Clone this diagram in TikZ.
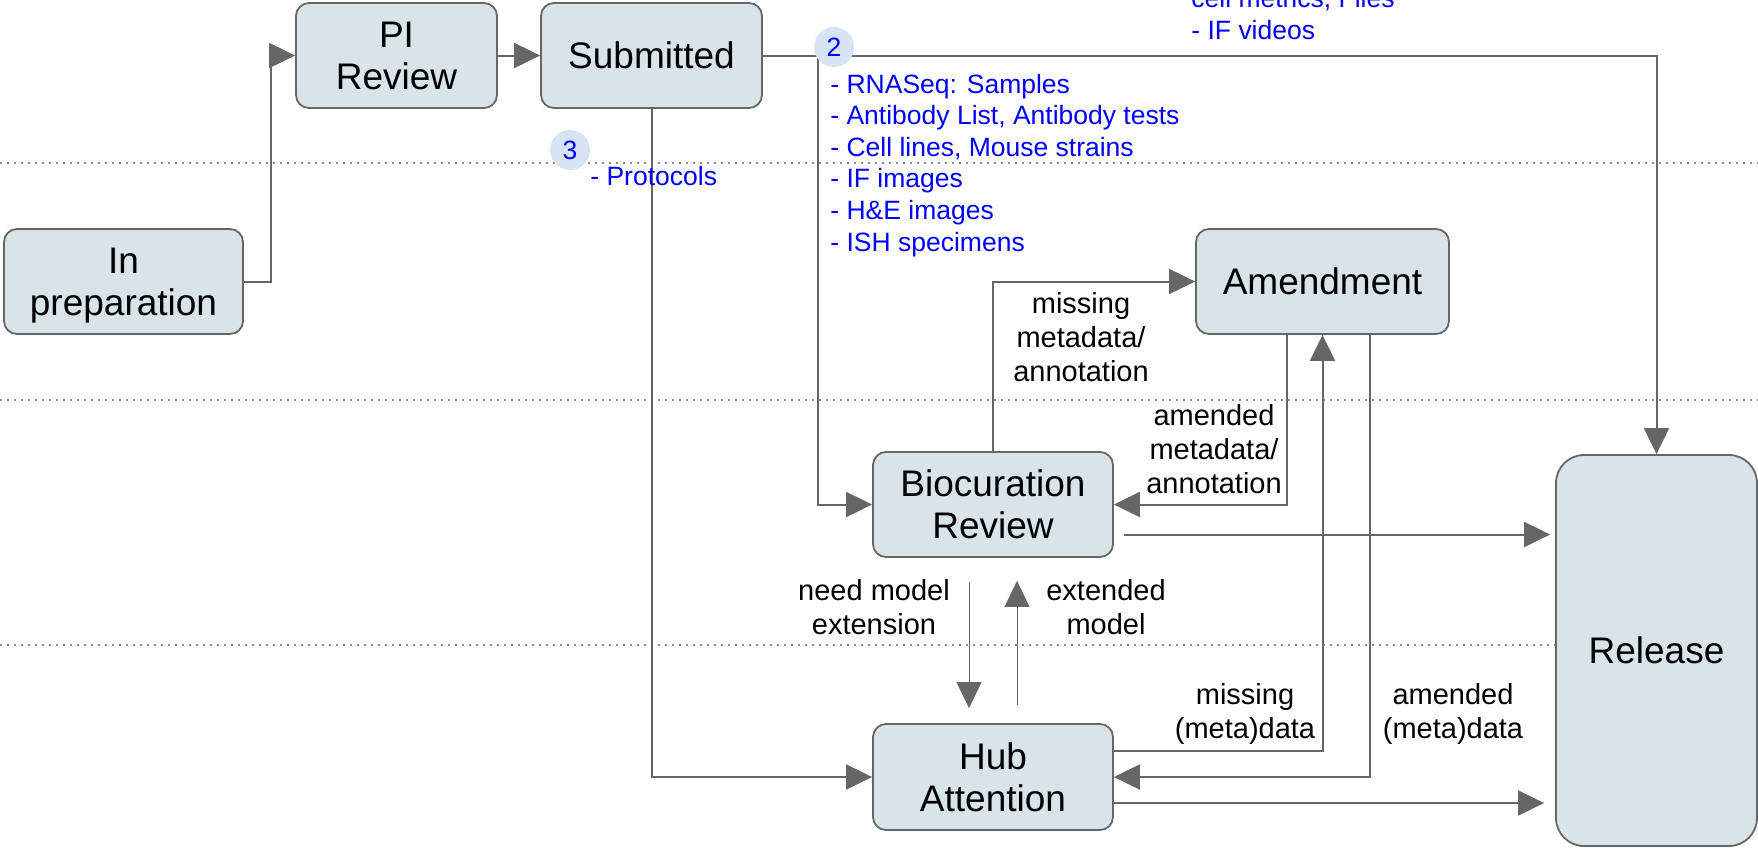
\documentclass[tikz,border=0pt]{standalone}
\usepackage{fontspec}
\setmainfont{Liberation Sans}
\usetikzlibrary{arrows.meta,calc}
\definecolor{boxfill}{HTML}{D9E4E8}
\definecolor{boxline}{HTML}{666666}
\definecolor{linegray}{HTML}{666666}
\definecolor{circfill}{HTML}{D6E4F5}
\definecolor{dotgray}{HTML}{8C8C8C}
\definecolor{txtblue}{HTML}{0000FF}
\begin{document}
\begin{tikzpicture}[x=0.5pt,y=-0.5pt,
  state/.style={draw=boxline, line width=0.9pt, fill=boxfill, rounded corners=6.5pt,
    align=center, font=\fontsize{18.5}{21}\selectfont, inner sep=0pt, text depth=0pt},
  conn/.style={draw=linegray, line width=1pt, -{Triangle[length=13pt,width=12.5pt]}},
  thinconn/.style={conn, line width=0.5pt},
  lab/.style={align=center, font=\fontsize{14.5}{17}\selectfont, inner sep=0pt, text depth=0pt},
  bluetxt/.style={text=txtblue, font=\fontsize{13.25}{15.8}\selectfont, inner sep=0pt, anchor=base west},
  num/.style={circle, fill=circfill, minimum size=20pt, inner sep=0pt, text=txtblue,
    font=\fontsize{13.25}{15.8}\selectfont},
  sepline/.style={draw=dotgray, line width=0.8pt, dash pattern=on 0.8pt off 2.7pt}
]
\clip (0,0) rectangle (1758,848);

% lane separators
\draw[sepline] (0,163) -- (1758,163);
\draw[sepline] (0,400) -- (1758,400);
\draw[sepline] (0,645) -- (1758,645);

% states
\node[state, minimum width=119.5pt, minimum height=52.5pt] (inprep) at (123.5,281.5) {In\\preparation};
\node[state, minimum width=100.5pt, minimum height=52.5pt] (pi) at (396.5,55.5) {PI\\Review};
\node[state, minimum width=110.5pt, minimum height=52.5pt] (sub) at (651.5,55.5) {Submitted};
\node[state, minimum width=126.5pt, minimum height=52.5pt] (amend) at (1322.5,281.5) {Amendment};
\node[state, minimum width=120pt, minimum height=52.5pt] (bio) at (993,504.5) {Biocuration\\Review};
\node[state, minimum width=120pt, minimum height=53pt] (hub) at (993,777) {Hub\\Attention};
\node[state, rounded corners=14pt, minimum width=100.5pt, minimum height=195.5pt] (release) at (1656.5,650.5) {Release};

% connectors
\draw[conn] (inprep.east) -- ++(27,0) |- (pi.west);
\draw[conn] (pi.east) -- (sub.west);
\draw[conn] (sub.east) -| (release.north);
\coordinate (br) at (818,55.5);
\draw[conn] (br) |- (bio.west);
\draw[conn] (sub.south) |- (hub.west);
\draw[conn] (bio.north) |- (amend.west);
\draw[conn] ($(amend.south)+(-35.5,0)$) |- (bio.east);
\coordinate (bo) at ($(bio.east)+(10,30)$);
\draw[conn, shorten >=2.5pt] (bo) -- (bo -| release.west);
\coordinate (ho) at ($(hub.east)+(0,26)$);
\draw[conn, shorten >=5.5pt] (ho) -- (ho -| release.west);
\coordinate (hu) at ($(hub.east)+(0,-26)$);
\draw[conn] (hu) -| (amend.south);
\draw[conn] ($(amend.south)+(47.5,0)$) |- (hub.east);
\draw[thinconn] ($(bio.south)+(-24,24)$) -- ($(hub.north)+(-24,-15)$);
\draw[thinconn] ($(hub.north)+(24,-18)$) -- ($(bio.south)+(24,23)$);

% connector labels
\node[lab] (lmiss) at (1081,337) {missing\\metadata/\\annotation};
\node[lab] (lamend) at (1214,449) {amended\\metadata/\\annotation};
\node[lab] (lneed) at (874,607) {need model\\extension};
\node[lab] (lext) at (1106,607) {extended\\model};
\node[lab] (lmissd) at (1245,711) {missing\\(meta)data};
\node[lab] (lamendd) at (1453,711) {amended\\(meta)data};

% blue annotations
\foreach \t [count=\i] in {{- RNASeq: Samples},{- Antibody List, Antibody tests},{- Cell lines, Mouse strains},{- IF images},{- H\&E images},{- ISH specimens}}
  \node[bluetxt] (item\i) at (830,{93+31.6*(\i-1)}) {\t};
\node[bluetxt] (cellm) at (1191,7.4) {cell metrics, Files};
\node[bluetxt] (vid) at (1191,39) {- IF videos};
\node[bluetxt] (prot) at (590,185) {- Protocols};
\node[num] (c2) at (834,47) {2};
\node[num] (c3) at (570,150) {3};
\end{tikzpicture}
\end{document}
